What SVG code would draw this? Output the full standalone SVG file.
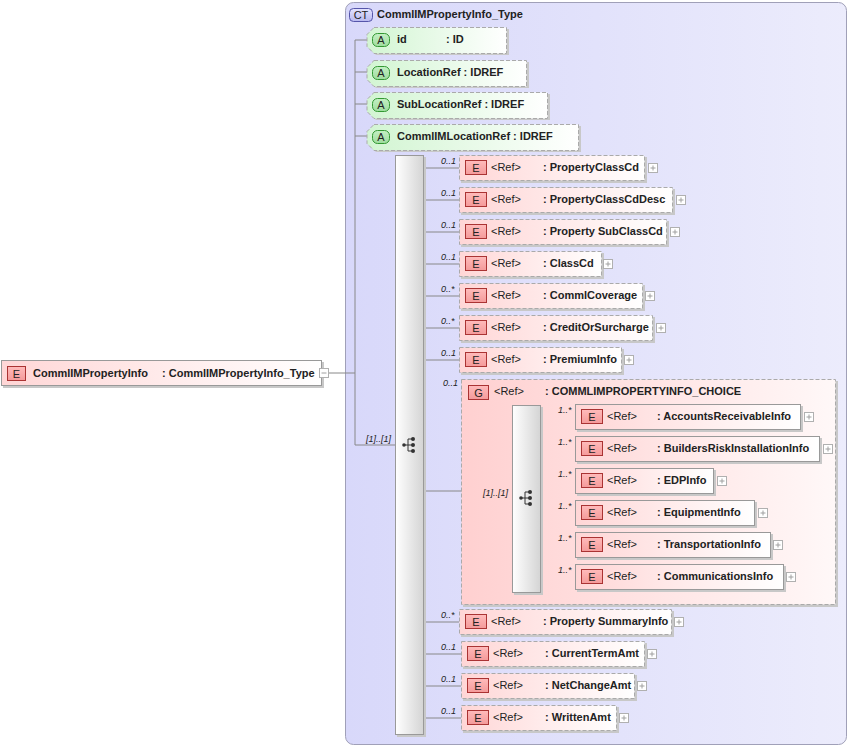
<svg xmlns="http://www.w3.org/2000/svg" width="849" height="747" viewBox="0 0 849 747">
<defs>
<linearGradient id="ctg" x1="0" y1="0" x2="1" y2="0"><stop offset="0" stop-color="#d8d8fa"/><stop offset="1" stop-color="#ececfc"/></linearGradient>
<linearGradient id="eg" x1="0" y1="0" x2="1" y2="0"><stop offset="0" stop-color="#ffd6d6"/><stop offset="1" stop-color="#ffffff"/></linearGradient>
<linearGradient id="gg" x1="0" y1="0" x2="1" y2="0"><stop offset="0" stop-color="#ffd0d0"/><stop offset="1" stop-color="#fff8f8"/></linearGradient>
<linearGradient id="ag" x1="0" y1="0" x2="1" y2="0"><stop offset="0" stop-color="#d2f5d2"/><stop offset="1" stop-color="#ffffff"/></linearGradient>
<linearGradient id="sg" x1="0" y1="0" x2="1" y2="0"><stop offset="0" stop-color="#ffffff"/><stop offset="1" stop-color="#d4d4d4"/></linearGradient>
<linearGradient id="eb" x1="0" y1="0" x2="0" y2="1"><stop offset="0" stop-color="#fbb"/><stop offset="1" stop-color="#f49a9a"/></linearGradient>
<linearGradient id="ab" x1="0" y1="0" x2="0" y2="1"><stop offset="0" stop-color="#c4f0c4"/><stop offset="1" stop-color="#9ddc9d"/></linearGradient>
<linearGradient id="cb" x1="0" y1="0" x2="0" y2="1"><stop offset="0" stop-color="#e4e4ff"/><stop offset="1" stop-color="#b8b8f0"/></linearGradient>
<g id="plus"><rect x="0.5" y="0.5" width="9" height="9" fill="#fff" stroke="#b0b0b0"/><path d="M2.5 5H7.5M5 2.5V7.5" stroke="#a0a0a0"/></g>
<g id="seqicon"><path d="M0 6H5M5 0V12M5 0H10M5 6H10M5 12H10" stroke="#333" fill="none"/><circle cx="1" cy="6" r="1.8" fill="#333"/><circle cx="10" cy="0" r="2" fill="#333"/><circle cx="10" cy="6" r="2" fill="#333"/><circle cx="10" cy="12" r="2" fill="#333"/></g>
</defs>
<style>
text{font-family:"Liberation Sans",Arial,sans-serif;font-size:11px;fill:#222}
.b{font-weight:bold}
.m{font-size:9px;font-style:italic}
.badge{font-size:11px;text-anchor:middle}
.opt{fill:url(#eg);stroke:#aaa;stroke-dasharray:4,2}
.req{fill:url(#eg);stroke:#999}
.att{fill:url(#ag);stroke:#aaa;stroke-dasharray:4,2}
.sh{fill:#c8c8c8}
.ln{stroke:#888;fill:none}
.eb{fill:url(#eb);stroke:#a33}
.ab{fill:url(#ab);stroke:#393}
.seq{fill:url(#sg);stroke:#999}
</style>

<g id="ct">
<rect x="345.5" y="2.5" width="501" height="742" rx="8" fill="url(#ctg)" stroke="#a0a0b8"/>
<rect x="349.5" y="8.5" width="23" height="13" rx="4" fill="url(#cb)" stroke="#55a"/>
<text x="361" y="19" class="badge">CT</text>
<text x="377" y="18" class="b">CommlIMPropertyInfo_Type</text>
</g>

<g id="connectors">
<path class="ln" d="M329 373H355M355 40V445M355 40H367M355 72H367M355 104H367M355 136H367M355 445H395"/>
<path class="ln" d="M424 168H459M424 200H459M424 232H459M424 264H459M424 296H459M424 328H459M424 360H459M424 491H512M424 622H459M424 654H461M424 686H461M424 718H461"/>
<path class="ln" d="M541 417H575M541 449H575M541 481H575M541 513H575M541 545H575M541 577H575"/>
</g>

<g id="main">
<rect class="sh" x="3" y="362" width="321" height="26"/>
<rect x="1.5" y="360.5" width="320" height="25" fill="url(#eg)" stroke="#999"/>
<rect class="eb" x="7.5" y="366.5" width="18" height="14"/>
<text x="16.5" y="378" class="badge">E</text>
<text x="33" y="377" class="b">CommlIMPropertyInfo</text>
<text x="162" y="377" class="b">: CommlIMPropertyInfo_Type</text>
<rect x="319.5" y="368.5" width="9" height="9" fill="#fff" stroke="#b0b0b0"/>
<path d="M321.5 373H326.5" stroke="#a0a0a0"/>
</g>

<g id="attr-id">
<path class="sh" d="M376 29H509V55H376L369 48V36Z"/>
<path class="att" d="M374 27.5H506.5V53.5H374L367 46.5V34.5Z"/>
<rect class="ab" x="372.5" y="33.5" width="17" height="13" rx="5"/>
<text x="381" y="44" class="badge">A</text>
<text x="397" y="43" class="b">id</text><text x="446" y="43" class="b">: ID</text>
</g>
<g id="attr-LocationRef">
<path class="sh" d="M376 62H529V88H376L369 81V69Z"/>
<path class="att" d="M374 60.5H526.5V86.5H374L367 79.5V67.5Z"/>
<rect class="ab" x="372.5" y="66.5" width="17" height="13" rx="5"/>
<text x="381" y="77" class="badge">A</text>
<text x="397" y="76" class="b">LocationRef : IDREF</text>
</g>
<g id="attr-SubLocationRef">
<path class="sh" d="M376 94H550V120H376L369 113V101Z"/>
<path class="att" d="M374 92.5H547.5V118.5H374L367 111.5V99.5Z"/>
<rect class="ab" x="372.5" y="98.5" width="17" height="13" rx="5"/>
<text x="381" y="109" class="badge">A</text>
<text x="397" y="108" class="b">SubLocationRef : IDREF</text>
</g>
<g id="attr-CommlIMLocationRef">
<path class="sh" d="M376 126H581V152H376L369 145V133Z"/>
<path class="att" d="M374 124.5H578.5V150.5H374L367 143.5V131.5Z"/>
<rect class="ab" x="372.5" y="130.5" width="17" height="13" rx="5"/>
<text x="381" y="141" class="badge">A</text>
<text x="397" y="140" class="b">CommlIMLocationRef : IDREF</text>
</g>

<g id="sequence">
<rect class="sh" x="397" y="157" width="29" height="580"/>
<rect class="seq" x="395.5" y="155.5" width="28" height="579"/>
<use href="#seqicon" x="403" y="439"/>
<text x="366" y="442" class="m">[1]..[1]</text>
</g>

<g id="el-PropertyClassCd">
<text x="441" y="164" class="m">0..1</text>
<rect class="sh" x="461" y="157" width="186" height="26"/>
<rect class="opt" x="459.5" y="155.5" width="185" height="25"/>
<rect class="eb" x="465.5" y="160.5" width="21" height="14"/><text x="476" y="172" class="badge">E</text>
<text x="491" y="171">&lt;Ref&gt;</text><text x="543" y="171" class="b">: PropertyClassCd</text>
<use href="#plus" x="648" y="163"/>
</g>
<g id="el-PropertyClassCdDesc">
<text x="441" y="196" class="m">0..1</text>
<rect class="sh" x="461" y="189" width="214" height="26"/>
<rect class="opt" x="459.5" y="187.5" width="213" height="25"/>
<rect class="eb" x="465.5" y="192.5" width="21" height="14"/><text x="476" y="204" class="badge">E</text>
<text x="491" y="203">&lt;Ref&gt;</text><text x="543" y="203" class="b">: PropertyClassCdDesc</text>
<use href="#plus" x="676" y="195"/>
</g>
<g id="el-PropertySubClassCd">
<text x="441" y="228" class="m">0..1</text>
<rect class="sh" x="461" y="221" width="208" height="26"/>
<rect class="opt" x="459.5" y="219.5" width="207" height="25"/>
<rect class="eb" x="465.5" y="224.5" width="21" height="14"/><text x="476" y="236" class="badge">E</text>
<text x="491" y="235">&lt;Ref&gt;</text><text x="543" y="235" class="b">: Property SubClassCd</text>
<use href="#plus" x="670" y="227"/>
</g>
<g id="el-ClassCd">
<text x="441" y="260" class="m">0..1</text>
<rect class="sh" x="461" y="253" width="143" height="26"/>
<rect class="opt" x="459.5" y="251.5" width="142" height="25"/>
<rect class="eb" x="465.5" y="256.5" width="21" height="14"/><text x="476" y="268" class="badge">E</text>
<text x="491" y="267">&lt;Ref&gt;</text><text x="543" y="267" class="b">: ClassCd</text>
<use href="#plus" x="603" y="259"/>
</g>
<g id="el-CommlCoverage">
<text x="441" y="292" class="m">0..*</text>
<rect class="sh" x="461" y="285" width="184" height="26"/>
<rect class="opt" x="459.5" y="283.5" width="183" height="25"/>
<rect class="eb" x="465.5" y="288.5" width="21" height="14"/><text x="476" y="300" class="badge">E</text>
<text x="491" y="299">&lt;Ref&gt;</text><text x="543" y="299" class="b">: CommlCoverage</text>
<use href="#plus" x="645" y="291"/>
</g>
<g id="el-CreditOrSurcharge">
<text x="441" y="324" class="m">0..*</text>
<rect class="sh" x="461" y="317" width="194" height="26"/>
<rect class="opt" x="459.5" y="315.5" width="193" height="25"/>
<rect class="eb" x="465.5" y="320.5" width="21" height="14"/><text x="476" y="332" class="badge">E</text>
<text x="491" y="331">&lt;Ref&gt;</text><text x="543" y="331" class="b">: CreditOrSurcharge</text>
<use href="#plus" x="656" y="323"/>
</g>
<g id="el-PremiumInfo">
<text x="441" y="356" class="m">0..1</text>
<rect class="sh" x="461" y="349" width="163" height="26"/>
<rect class="opt" x="459.5" y="347.5" width="162" height="25"/>
<rect class="eb" x="465.5" y="352.5" width="21" height="14"/><text x="476" y="364" class="badge">E</text>
<text x="491" y="363">&lt;Ref&gt;</text><text x="543" y="363" class="b">: PremiumInfo</text>
<use href="#plus" x="624" y="355"/>
</g>

<g id="group-COMMLIMPROPERTYINFO_CHOICE">
<text x="443" y="386" class="m">0..1</text>
<rect class="sh" x="463" y="381" width="375" height="226"/>
<rect x="461.5" y="379.5" width="374" height="225" fill="url(#gg)" stroke="#aaa" stroke-dasharray="4,2"/>
<rect class="eb" x="468.5" y="385.5" width="20" height="14"/><text x="478.5" y="397" class="badge">G</text>
<text x="494" y="395">&lt;Ref&gt;</text><text x="545" y="395" class="b">: COMMLIMPROPERTYINFO_CHOICE</text>
<rect class="sh" x="514" y="407" width="29" height="188"/>
<rect class="seq" x="512.5" y="405.5" width="28" height="187"/>
<use href="#seqicon" x="520" y="492"/>
<text x="483" y="496" class="m">[1]..[1]</text>
</g>

<g id="el-AccountsReceivableInfo">
<text x="558" y="413" class="m">1..*</text>
<rect class="sh" x="577" y="406" width="226" height="26"/>
<rect class="req" x="575.5" y="404.5" width="225" height="25"/>
<rect class="eb" x="581.5" y="409.5" width="21" height="14"/><text x="592" y="421" class="badge">E</text>
<text x="607" y="420">&lt;Ref&gt;</text><text x="657" y="420" class="b">: AccountsReceivableInfo</text>
<use href="#plus" x="804" y="412"/>
</g>
<g id="el-BuildersRiskInstallationInfo">
<text x="558" y="445" class="m">1..*</text>
<rect class="sh" x="577" y="438" width="245" height="26"/>
<rect class="req" x="575.5" y="436.5" width="244" height="25"/>
<rect class="eb" x="581.5" y="441.5" width="21" height="14"/><text x="592" y="453" class="badge">E</text>
<text x="607" y="452">&lt;Ref&gt;</text><text x="657" y="452" class="b">: BuildersRiskInstallationInfo</text>
<use href="#plus" x="823" y="444"/>
</g>
<g id="el-EDPInfo">
<text x="558" y="477" class="m">1..*</text>
<rect class="sh" x="577" y="470" width="139" height="26"/>
<rect class="req" x="575.5" y="468.5" width="138" height="25"/>
<rect class="eb" x="581.5" y="473.5" width="21" height="14"/><text x="592" y="485" class="badge">E</text>
<text x="607" y="484">&lt;Ref&gt;</text><text x="657" y="484" class="b">: EDPInfo</text>
<use href="#plus" x="717" y="476"/>
</g>
<g id="el-EquipmentInfo">
<text x="558" y="509" class="m">1..*</text>
<rect class="sh" x="577" y="502" width="180" height="26"/>
<rect class="req" x="575.5" y="500.5" width="179" height="25"/>
<rect class="eb" x="581.5" y="505.5" width="21" height="14"/><text x="592" y="517" class="badge">E</text>
<text x="607" y="516">&lt;Ref&gt;</text><text x="657" y="516" class="b">: EquipmentInfo</text>
<use href="#plus" x="758" y="508"/>
</g>
<g id="el-TransportationInfo">
<text x="558" y="541" class="m">1..*</text>
<rect class="sh" x="577" y="534" width="196" height="26"/>
<rect class="req" x="575.5" y="532.5" width="195" height="25"/>
<rect class="eb" x="581.5" y="537.5" width="21" height="14"/><text x="592" y="549" class="badge">E</text>
<text x="607" y="548">&lt;Ref&gt;</text><text x="657" y="548" class="b">: TransportationInfo</text>
<use href="#plus" x="773" y="540"/>
</g>
<g id="el-CommunicationsInfo">
<text x="558" y="573" class="m">1..*</text>
<rect class="sh" x="577" y="566" width="209" height="26"/>
<rect class="req" x="575.5" y="564.5" width="208" height="25"/>
<rect class="eb" x="581.5" y="569.5" width="21" height="14"/><text x="592" y="581" class="badge">E</text>
<text x="607" y="580">&lt;Ref&gt;</text><text x="657" y="580" class="b">: CommunicationsInfo</text>
<use href="#plus" x="786" y="572"/>
</g>

<g id="el-PropertySummaryInfo">
<text x="441" y="618" class="m">0..*</text>
<rect class="sh" x="461" y="611" width="213" height="26"/>
<rect class="opt" x="459.5" y="609.5" width="212" height="25"/>
<rect class="eb" x="465.5" y="614.5" width="21" height="14"/><text x="476" y="626" class="badge">E</text>
<text x="491" y="625">&lt;Ref&gt;</text><text x="543" y="625" class="b">: Property SummaryInfo</text>
<use href="#plus" x="674" y="617"/>
</g>
<g id="el-CurrentTermAmt">
<text x="441" y="650" class="m">0..1</text>
<rect class="sh" x="463" y="643" width="184" height="26"/>
<rect class="opt" x="461.5" y="641.5" width="183" height="25"/>
<rect class="eb" x="467.5" y="646.5" width="21" height="14"/><text x="478" y="658" class="badge">E</text>
<text x="493" y="657">&lt;Ref&gt;</text><text x="545" y="657" class="b">: CurrentTermAmt</text>
<use href="#plus" x="647" y="649"/>
</g>
<g id="el-NetChangeAmt">
<text x="441" y="682" class="m">0..1</text>
<rect class="sh" x="463" y="675" width="174" height="26"/>
<rect class="opt" x="461.5" y="673.5" width="173" height="25"/>
<rect class="eb" x="467.5" y="678.5" width="21" height="14"/><text x="478" y="690" class="badge">E</text>
<text x="493" y="689">&lt;Ref&gt;</text><text x="545" y="689" class="b">: NetChangeAmt</text>
<use href="#plus" x="637" y="681"/>
</g>
<g id="el-WrittenAmt">
<text x="441" y="714" class="m">0..1</text>
<rect class="sh" x="463" y="707" width="156" height="26"/>
<rect class="opt" x="461.5" y="705.5" width="155" height="25"/>
<rect class="eb" x="467.5" y="710.5" width="21" height="14"/><text x="478" y="722" class="badge">E</text>
<text x="493" y="721">&lt;Ref&gt;</text><text x="545" y="721" class="b">: WrittenAmt</text>
<use href="#plus" x="619" y="713"/>
</g>
</svg>
